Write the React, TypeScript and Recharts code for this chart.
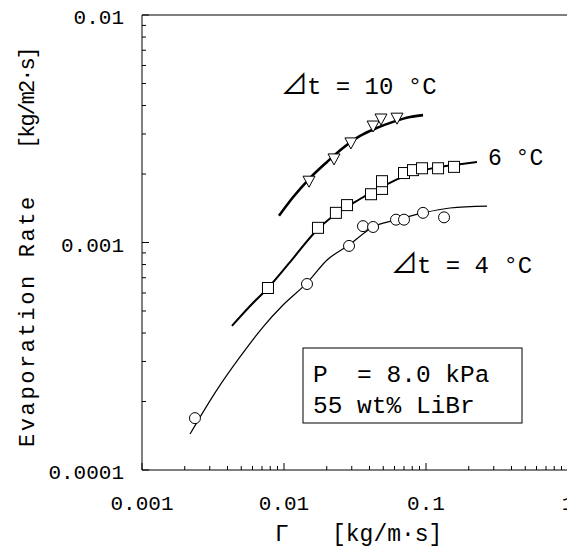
import React from 'react';
import { ComposedChart, Line, Scatter, XAxis, YAxis, ReferenceLine } from 'recharts';

// log axes: major ticks with labels, minor ticks without
const xMajor = [0.001, 0.01, 0.1, 1];
const xTickLabels = ['0.001', '0.01', '0.1', '1'];
const xMinor = [
  0.002, 0.003, 0.004, 0.005, 0.006, 0.007, 0.008, 0.009,
  0.02, 0.03, 0.04, 0.05, 0.06, 0.07, 0.08, 0.09,
  0.2, 0.3, 0.4, 0.5, 0.6, 0.7, 0.8, 0.9,
];
const yMajor = [0.0001, 0.001, 0.01];
const yTickLabels = ['0.0001', '0.001', '0.01'];
const yMinor = [
  0.0002, 0.0003, 0.0004, 0.0005, 0.0006, 0.0007, 0.0008, 0.0009,
  0.002, 0.003, 0.004, 0.005, 0.006, 0.007, 0.008, 0.009,
];

const tri10 = [
  { x: 0.015, y: 0.00186 },
  { x: 0.0225, y: 0.00233 },
  { x: 0.0296, y: 0.00274 },
  { x: 0.0424, y: 0.00325 },
  { x: 0.0482, y: 0.00349 },
  { x: 0.0625, y: 0.00352 },
];
const sq6 = [
  { x: 0.00771, y: 0.000631 },
  { x: 0.01735, y: 0.00116 },
  { x: 0.0232, y: 0.00135 },
  { x: 0.0278, y: 0.00146 },
  { x: 0.041, y: 0.00163 },
  { x: 0.049, y: 0.00172 },
  { x: 0.049, y: 0.00186 },
  { x: 0.07, y: 0.00202 },
  { x: 0.081, y: 0.00208 },
  { x: 0.0937, y: 0.00212 },
  { x: 0.1216, y: 0.00212 },
  { x: 0.1575, y: 0.00215 },
];
const circ4 = [
  { x: 0.00236, y: 0.000169 },
  { x: 0.01452, y: 0.000657 },
  { x: 0.0287, y: 0.000966 },
  { x: 0.036, y: 0.00118 },
  { x: 0.0424, y: 0.00117 },
  { x: 0.0615, y: 0.00126 },
  { x: 0.07, y: 0.00126 },
  { x: 0.0953, y: 0.00135 },
  { x: 0.134, y: 0.00129 },
];

// correlation curves
const curve10 = [
  { x: 0.00922, y: 0.00131 },
  { x: 0.01157, y: 0.00158 },
  { x: 0.01524, y: 0.00192 },
  { x: 0.0201, y: 0.00226 },
  { x: 0.026, y: 0.0026 },
  { x: 0.0343, y: 0.00294 },
  { x: 0.0452, y: 0.00319 },
  { x: 0.0586, y: 0.00339 },
  { x: 0.0771, y: 0.00356 },
  { x: 0.0953, y: 0.00363 },
];
const curve6 = [
  { x: 0.0043, y: 0.00043 },
  { x: 0.00577, y: 0.000526 },
  { x: 0.00771, y: 0.000631 },
  { x: 0.01102, y: 0.00082 },
  { x: 0.01735, y: 0.001146 },
  { x: 0.0248, y: 0.001375 },
  { x: 0.0343, y: 0.001553 },
  { x: 0.0474, y: 0.001738 },
  { x: 0.0656, y: 0.00192 },
  { x: 0.0907, y: 0.00206 },
  { x: 0.1256, y: 0.00215 },
  { x: 0.1734, y: 0.00221 },
  { x: 0.2286, y: 0.00226 },
];
const curve4 = [
  { x: 0.00218, y: 0.000144 },
  { x: 0.00337, y: 0.000225 },
  { x: 0.0049, y: 0.000314 },
  { x: 0.00711, y: 0.000425 },
  { x: 0.00984, y: 0.000531 },
  { x: 0.01452, y: 0.000664 },
  { x: 0.0201, y: 0.000838 },
  { x: 0.0287, y: 0.000975 },
  { x: 0.0424, y: 0.00117 },
  { x: 0.0615, y: 0.001256 },
  { x: 0.0953, y: 0.001349 },
  { x: 0.1476, y: 0.001418 },
  { x: 0.269, y: 0.001446 },
];

const W = 567;
const H = 542;
const FONT = "'Liberation Mono', 'DejaVu Sans Mono', 'DejaVu Sans', monospace";
const CJK = "'Noto Sans CJK JP', 'DejaVu Sans', sans-serif";

function XTick(props: any) {
  const { x, y, payload } = props;
  const i = xMajor.indexOf(payload.value);
  const len = i >= 0 ? 7 : 4;
  return (
    <g>
      <line x1={x} y1={y} x2={x} y2={y - len} stroke="#000" strokeWidth={1} />
      {i >= 0 && (
        <text x={x} y={y + 40} textAnchor="middle" fontFamily={FONT} fontSize={21} fill="#000">
          {xTickLabels[i]}
        </text>
      )}
    </g>
  );
}

function YTick(props: any) {
  const { x, y, payload } = props;
  const i = yMajor.indexOf(payload.value);
  const len = i >= 0 ? 7 : 4;
  return (
    <g>
      <line x1={x} y1={y} x2={x + len} y2={y} stroke="#000" strokeWidth={1} />
      {i >= 0 && (
        <text x={x - 18} y={y} dy="0.45em" textAnchor="end" fontFamily={FONT} fontSize={21} fill="#000">
          {yTickLabels[i]}
        </text>
      )}
    </g>
  );
}

const Triangle = (p: any) => (
  <polygon
    points={`${p.cx - 6},${p.cy - 5} ${p.cx + 6},${p.cy - 5} ${p.cx},${p.cy + 6}`}
    fill="#fff"
    stroke="#000"
    strokeWidth={1}
  />
);
const Square = (p: any) => (
  <rect x={p.cx - 5.5} y={p.cy - 5.5} width={11} height={11} fill="#fff" stroke="#000" strokeWidth={1} />
);
const Circle = (p: any) => (
  <circle cx={p.cx} cy={p.cy} r={5.5} fill="#fff" stroke="#000" strokeWidth={1} />
);

const textStyle: React.CSSProperties = { whiteSpace: 'pre' };

export default function App() {
  return (
    <div style={{ position: 'relative', width: W, height: H }}>
      <ComposedChart width={W} height={H} margin={{ top: 7, right: 7, left: 0, bottom: 0 }}>
        <XAxis
          dataKey="x"
          type="number"
          scale="log"
          domain={[0.001, 1]}
          allowDataOverflow
          ticks={[...xMajor, ...xMinor]}
          interval={0}
          height={80}
          tickSize={0}
          tickMargin={0}
          tickLine={false}
          axisLine={{ stroke: '#000' }}
          tick={XTick}
        />
        <YAxis
          dataKey="y"
          type="number"
          scale="log"
          domain={[0.0001, 0.01]}
          allowDataOverflow
          ticks={[...yMajor, ...yMinor]}
          interval={0}
          width={134}
          tickSize={0}
          tickMargin={0}
          tickLine={false}
          axisLine={{ stroke: '#000' }}
          tick={YTick}
        />
        <ReferenceLine y={0.01} stroke="#000" strokeWidth={1} />
        <ReferenceLine x={1} stroke="#000" strokeWidth={1} />
        <Line data={curve10} dataKey="y" type="monotone" stroke="#000" strokeWidth={2.6} dot={false} activeDot={false} isAnimationActive={false} />
        <Line data={curve6} dataKey="y" type="monotone" stroke="#000" strokeWidth={2} dot={false} activeDot={false} isAnimationActive={false} />
        <Line data={curve4} dataKey="y" type="monotone" stroke="#000" strokeWidth={1.2} dot={false} activeDot={false} isAnimationActive={false} />
        <Scatter data={tri10} shape={Triangle} isAnimationActive={false} />
        <Scatter data={sq6} shape={Square} isAnimationActive={false} />
        <Scatter data={circ4} shape={Circle} isAnimationActive={false} />
      </ComposedChart>
      <svg width={W} height={H} style={{ position: 'absolute', left: 0, top: 0, pointerEvents: 'none' }}>
        <g fontFamily={FONT} fill="#000">
          <text y={86} style={textStyle}>
            <tspan x={273} fontSize={27} fontFamily={CJK}>⊿</tspan>
            <tspan x={299} fontSize={24}>t = 10 °C</tspan>
          </text>
          <text x={480} y={157} fontSize={23} style={textStyle}>6 °C</text>
          <text y={265} style={textStyle}>
            <tspan x={383} fontSize={27} fontFamily={CJK}>⊿</tspan>
            <tspan x={409} fontSize={24}>t = 4 °C</tspan>
          </text>
          <rect x={295} y={340} width={219} height={75} fill="#fff" stroke="#000" strokeWidth={1} />
          <text x={305} y={374} fontSize={24.5} style={textStyle}>P  = 8.0 kPa</text>
          <text x={305} y={405} fontSize={24.5} style={textStyle}>55 wt% LiBr</text>
          <text x={26} y={439} fontSize={22} letterSpacing={2.6} transform="rotate(-90 26 439)" style={textStyle}>Evaporation Rate</text>
          <text x={26} y={141} fontSize={22} letterSpacing={-2} transform="rotate(-90 26 141)" style={textStyle}>[kg/m2·s]</text>
          <text x={267} y={533} fontSize={23} style={textStyle}>Γ</text>
          <text x={324} y={533} fontSize={23} style={textStyle}>[kg/m·s]</text>
        </g>
      </svg>
    </div>
  );
}
